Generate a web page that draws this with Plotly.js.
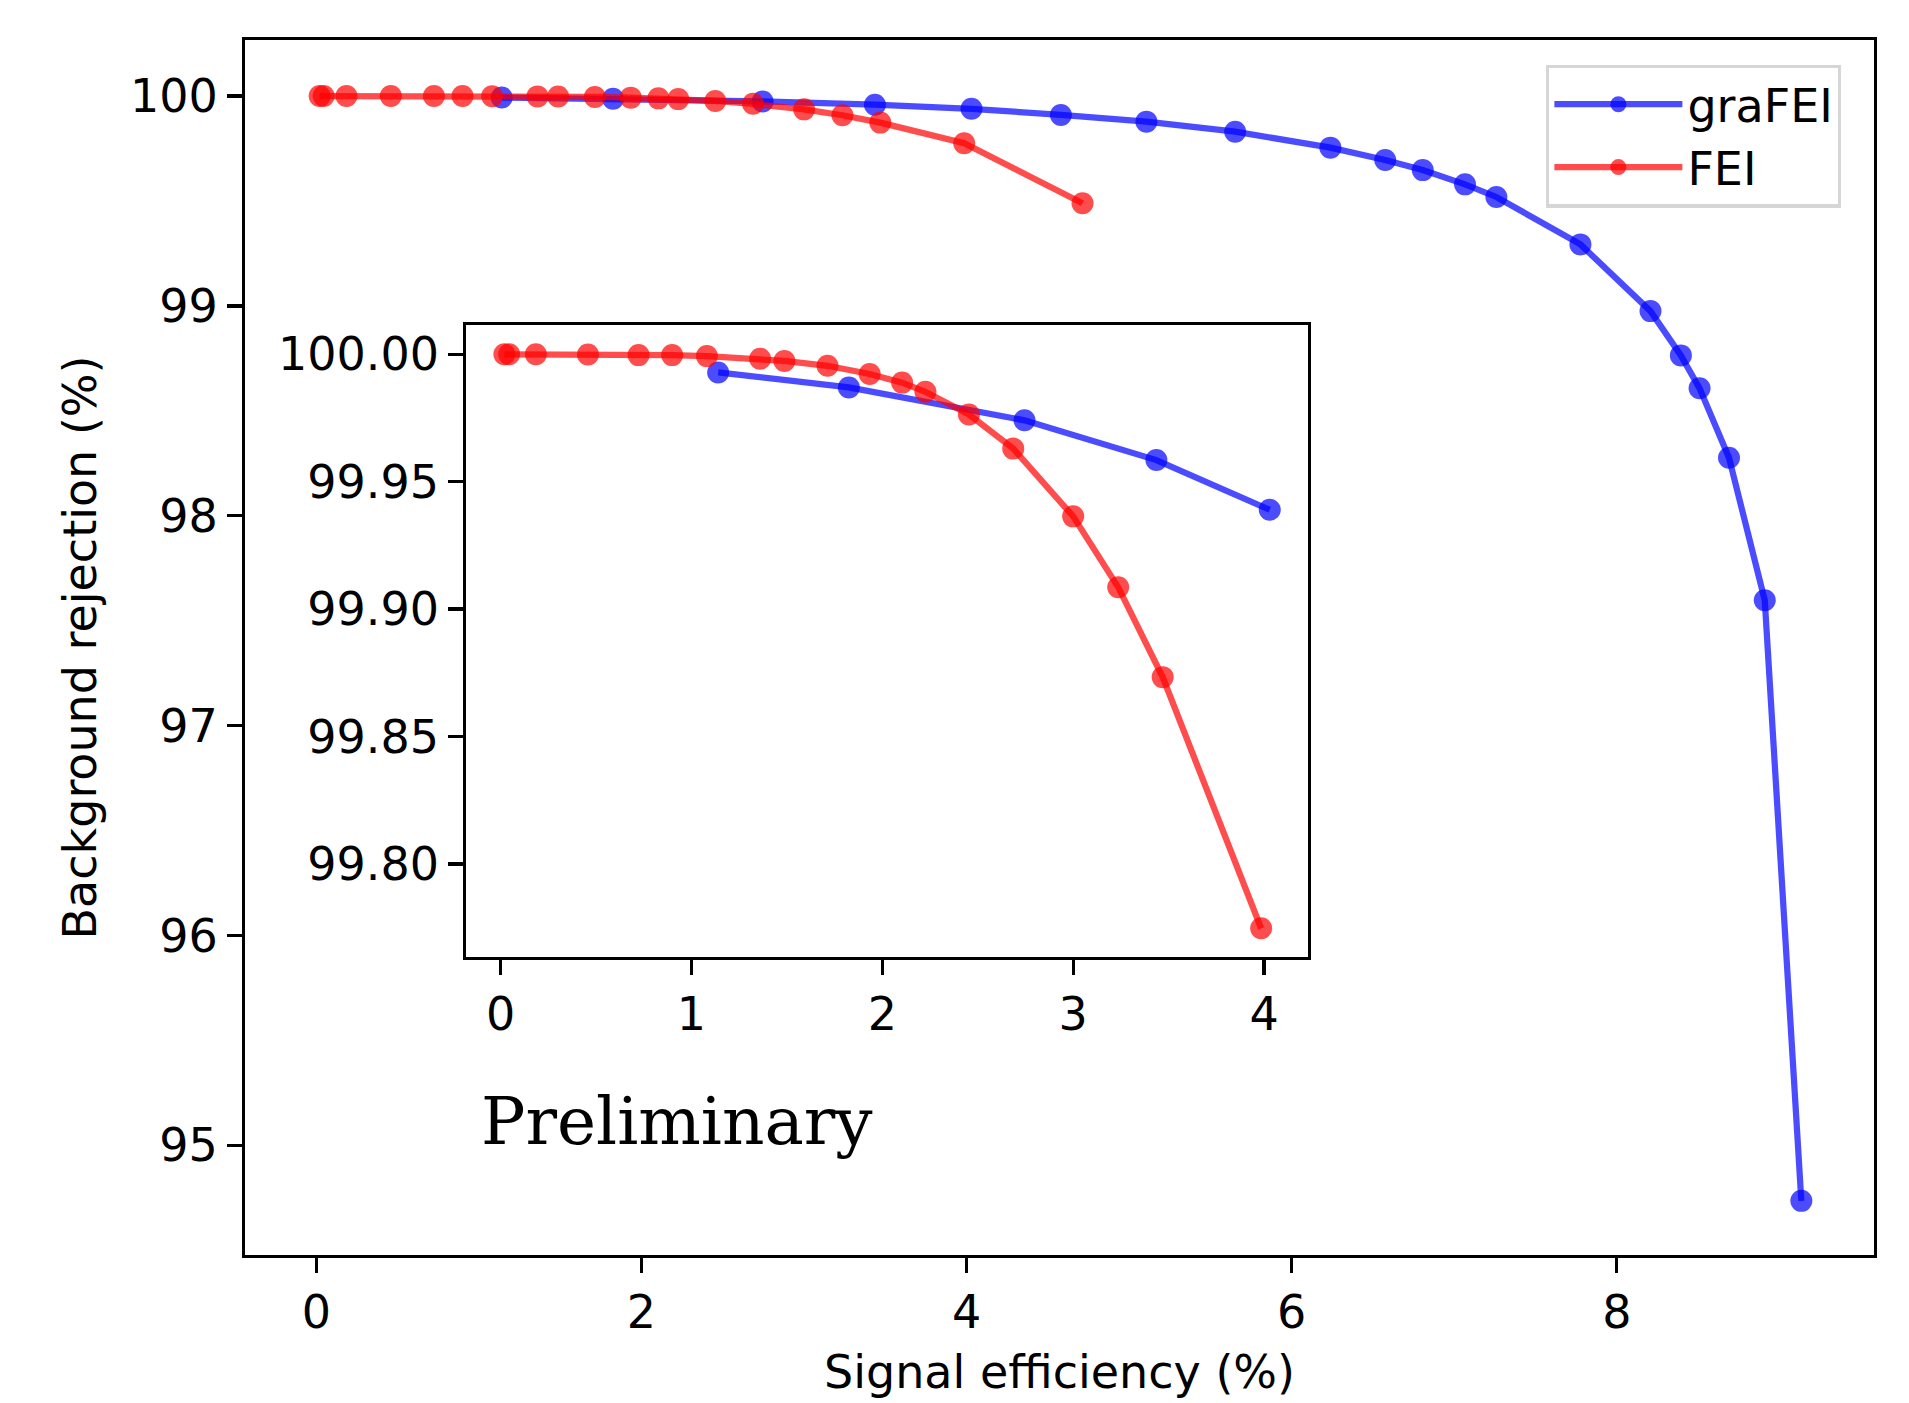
<!DOCTYPE html>
<html>
<head>
<meta charset="utf-8">
<script src="https://cdn.plot.ly/plotly-3.0.1.min.js"></script>
<style>
  html, body { margin: 0; padding: 0; background: #ffffff; }
  #chart { width: 1909px; height: 1403px; }
</style>
</head>
<body>
<div id="chart"></div>
<script>
// ---- data ----
const grafeiX = [1.140, 1.825, 2.745, 3.436, 4.030, 4.580, 5.106, 5.652, 6.238, 6.575, 6.806, 7.066, 7.259, 7.776, 8.207, 8.394, 8.509, 8.690, 8.910, 9.135];
const grafeiY = [99.9929, 99.9870, 99.9741, 99.9585, 99.9390, 99.910, 99.878, 99.830, 99.754, 99.695, 99.647, 99.579, 99.519, 99.293, 98.975, 98.764, 98.607, 98.276, 97.597, 94.735];
const feiX = [0.020, 0.045, 0.185, 0.458, 0.723, 0.899, 1.081, 1.360, 1.487, 1.713, 1.934, 2.104, 2.226, 2.454, 2.686, 3.000, 3.236, 3.469, 3.985, 4.713];
const feiY = [100.0000, 100.0000, 100.0000, 99.9999, 99.9997, 99.9997, 99.9993, 99.9983, 99.9974, 99.9955, 99.9923, 99.9889, 99.9853, 99.9764, 99.9630, 99.9364, 99.9086, 99.8733, 99.7747, 99.489];

const mainXTicks = [0, 2, 4, 6, 8];
const mainYTicks = [95, 96, 97, 98, 99, 100];
const insetXTicks = [0, 1, 2, 3, 4];
const insetYTicks = [99.80, 99.85, 99.90, 99.95, 100.00];
const insetMaxX = 4.05;   // inset shows the low-efficiency part only
const seriesNames = ["graFEI", "FEI"];
const watermark = "Preliminary";

// ---- styling ----
const BLUE = "rgba(0,0,255,0.7)";
const RED = "rgba(255,0,0,0.7)";
const FONT = "DejaVu Sans, Liberation Sans, sans-serif";
const FS = 46;
const LW = 6.25;
const MS = 22;

function filt(xs, ys) {
  const ox = [], oy = [];
  xs.forEach((v, i) => { if (v <= insetMaxX) { ox.push(v); oy.push(ys[i]); } });
  return [ox, oy];
}
const [gIx, gIy] = filt(grafeiX, grafeiY);
const [fIx, fIy] = filt(feiX, feiY);

function tr(x, y, color, name, group, xa, ya, show) {
  return {
    x: x, y: y, type: "scatter", mode: "lines+markers", name: name,
    legendgroup: group,
    xaxis: xa, yaxis: ya, showlegend: show, cliponaxis: true,
    line: { color: color, width: LW },
    marker: { color: color, size: MS, line: { width: 0 } },
    hoverinfo: "skip"
  };
}

const data = [
  tr(grafeiX, grafeiY, BLUE, seriesNames[0], "g", "x", "y", true),
  tr(feiX, feiY, RED, seriesNames[1], "f", "x", "y", true),
  tr(gIx, gIy, BLUE, seriesNames[0], "g", "x2", "y2", false),
  tr(fIx, fIy, RED, seriesNames[1], "f", "x2", "y2", false)
];

const axisCommon = {
  showgrid: false, zeroline: false, showline: true, mirror: true,
  linecolor: "#000000", linewidth: 3.3,
  ticks: "outside", ticklen: 14.6, tickwidth: 3.3, tickcolor: "#000000",
  tickfont: { family: FONT, size: FS, color: "#000000" }
};

const layout = {
  width: 1909, height: 1403,
  paper_bgcolor: "#ffffff", plot_bgcolor: "#ffffff",
  margin: { l: 245, r: 35, t: 40, b: 148, autoexpand: false },
  font: { family: FONT, size: FS, color: "#000000" },
  xaxis: Object.assign({}, axisCommon, {
    domain: [0, 1], range: [-0.4392, 9.582],
    tickmode: "array", tickvals: mainXTicks, ticktext: mainXTicks.map(String),
    title: { text: "Signal efficiency (%)", font: { family: FONT, size: FS, color: "#000000" }, standoff: 18 }
  }),
  yaxis: Object.assign({}, axisCommon, {
    domain: [0, 1], range: [94.477, 100.267],
    tickmode: "array", tickvals: mainYTicks, ticktext: mainYTicks.map(String),
    title: { text: "Background rejection (%)", font: { family: FONT, size: FS, color: "#000000" }, standoff: 20 }
  }),
  xaxis2: Object.assign({}, axisCommon, {
    anchor: "y2", domain: [0.1357, 0.6525], range: [-0.1807, 4.230],
    tickmode: "array", tickvals: insetXTicks, ticktext: insetXTicks.map(String)
  }),
  yaxis2: Object.assign({}, axisCommon, {
    anchor: "x2", domain: [0.2453, 0.7654], range: [99.76346, 100.0115],
    tickmode: "array", tickvals: insetYTicks, ticktext: insetYTicks.map(v => v.toFixed(2))
  }),
  legend: {
    x: 0.7987, y: 0.9798, xanchor: "left", yanchor: "top",
    bgcolor: "rgba(255,255,255,0.8)", bordercolor: "rgba(204,204,204,0.8)", borderwidth: 3.3,
    font: { family: FONT, size: FS, color: "#000000" },
    itemwidth: 128, tracegroupgap: 6, traceorder: "normal"
  },
  annotations: [{
    text: watermark, xref: "x", yref: "y", x: 1, y: 95,
    xanchor: "left", yanchor: "bottom", yshift: -17, showarrow: false,
    font: { family: "DejaVu Serif, Liberation Serif, serif", size: 66, color: "#000000" }
  }]
};

Plotly.newPlot("chart", data, layout, { displayModeBar: false, staticPlot: true });
</script>
</body>
</html>
